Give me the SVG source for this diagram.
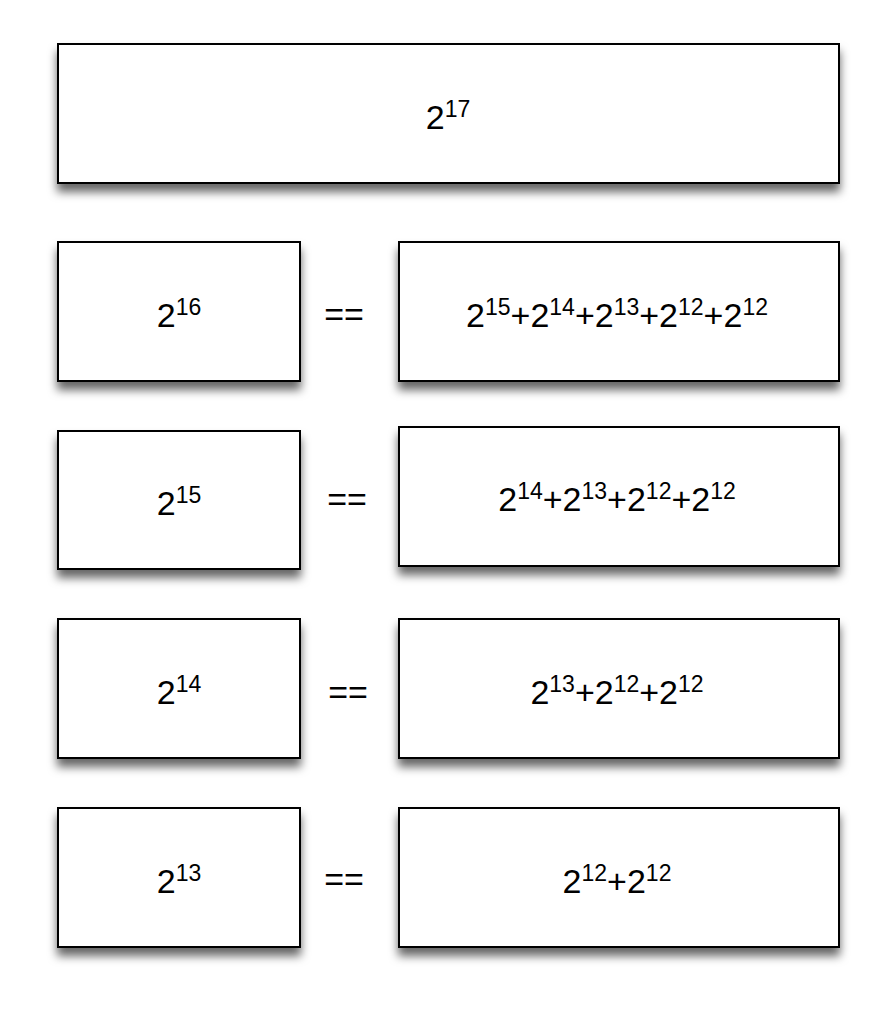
<svg xmlns="http://www.w3.org/2000/svg" width="894" height="1013" viewBox="0 0 894 1013">
<defs>
<filter id="sh" x="-10%" y="-20%" width="120%" height="160%">
<feDropShadow dx="0" dy="8" stdDeviation="5" flood-color="#000" flood-opacity="0.6"/>
</filter>
<style>
.box{fill:#fff;stroke:#000;stroke-width:2;filter:url(#sh)}
.t{font-family:"Liberation Sans",Arial,Helvetica,sans-serif;font-size:34px;fill:#000;text-anchor:middle}
.s{font-size:23px}
</style>
</defs>
<rect width="894" height="1013" fill="#fff"/>
<g id="n17"><rect class="box" x="58" y="44" width="781" height="139"/><text class="t" x="448" y="129">2<tspan class="s" dy="-12">17</tspan></text></g>
<g id="n16"><rect class="box" x="58" y="242" width="242" height="139"/><text class="t" x="179" y="327">2<tspan class="s" dy="-12">16</tspan></text></g>
<g id="s16"><rect class="box" x="399" y="242" width="440" height="139"/><text class="t" x="617" y="327">2<tspan class="s" dy="-12">15</tspan><tspan dy="12">+2</tspan><tspan class="s" dy="-12">14</tspan><tspan dy="12">+2</tspan><tspan class="s" dy="-12">13</tspan><tspan dy="12">+2</tspan><tspan class="s" dy="-12">12</tspan><tspan dy="12">+2</tspan><tspan class="s" dy="-12">12</tspan></text></g>
<g id="n15"><rect class="box" x="58" y="431" width="242" height="138"/><text class="t" x="179" y="515">2<tspan class="s" dy="-12">15</tspan></text></g>
<g id="s15"><rect class="box" x="399" y="427" width="440" height="139"/><text class="t" x="617" y="511">2<tspan class="s" dy="-12">14</tspan><tspan dy="12">+2</tspan><tspan class="s" dy="-12">13</tspan><tspan dy="12">+2</tspan><tspan class="s" dy="-12">12</tspan><tspan dy="12">+2</tspan><tspan class="s" dy="-12">12</tspan></text></g>
<g id="n14"><rect class="box" x="58" y="619" width="242" height="139"/><text class="t" x="179" y="704">2<tspan class="s" dy="-12">14</tspan></text></g>
<g id="s14"><rect class="box" x="399" y="619" width="440" height="139"/><text class="t" x="617" y="704">2<tspan class="s" dy="-12">13</tspan><tspan dy="12">+2</tspan><tspan class="s" dy="-12">12</tspan><tspan dy="12">+2</tspan><tspan class="s" dy="-12">12</tspan></text></g>
<g id="n13"><rect class="box" x="58" y="808" width="242" height="139"/><text class="t" x="179" y="893">2<tspan class="s" dy="-12">13</tspan></text></g>
<g id="s13"><rect class="box" x="399" y="808" width="440" height="139"/><text class="t" x="617" y="893">2<tspan class="s" dy="-12">12</tspan><tspan dy="12">+2</tspan><tspan class="s" dy="-12">12</tspan></text></g>
<g id="connectors">
<text class="t" x="344" y="326">==</text>
<text class="t" x="347" y="511">==</text>
<text class="t" x="348" y="704">==</text>
<text class="t" x="344" y="891">==</text>
</g>
</svg>
